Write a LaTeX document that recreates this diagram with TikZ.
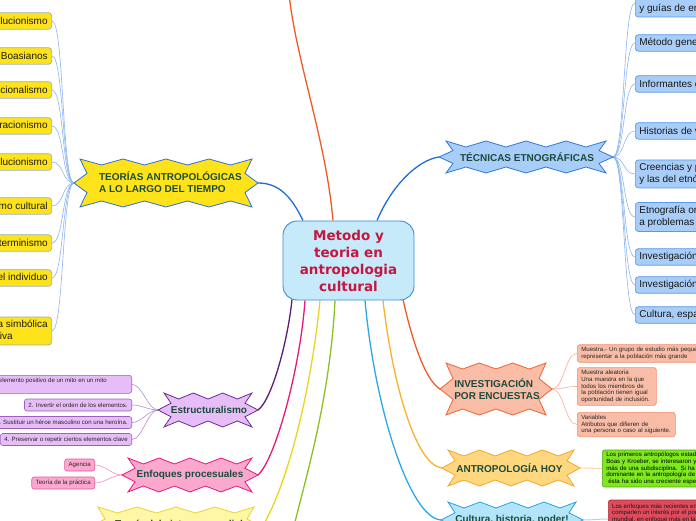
\documentclass[tikz,border=0pt]{standalone}
\usepackage{fontspec}
\setmainfont{Liberation Sans}
\newfontfamily\dejavu{DejaVu Sans}
\usetikzlibrary{calc,backgrounds}
\definecolor{cfill}{HTML}{C6EAFA}\definecolor{cbord}{HTML}{3A8DD8}\definecolor{ctext}{HTML}{C41740}
\definecolor{btxt}{HTML}{1B4B3C}
\definecolor{ylw}{HTML}{FFE31A}\definecolor{ylwb}{HTML}{9EAFC0}\definecolor{teob}{HTML}{2F6FD6}\definecolor{lconn}{HTML}{8DB6EE}
\definecolor{pfill}{HTML}{E6BDF6}\definecolor{pbord}{HTML}{9F5FBE}\definecolor{pburst}{HTML}{6E2C92}\definecolor{pconn}{HTML}{B98BCB}\definecolor{pmain}{HTML}{5A1E78}
\definecolor{kfill}{HTML}{FBA8CF}\definecolor{kbord}{HTML}{E8559B}\definecolor{kburst}{HTML}{E6197E}\definecolor{kconn}{HTML}{F48DBF}\definecolor{kmain}{HTML}{E8197A}
\definecolor{lyfill}{HTML}{FFF6A6}\definecolor{lybord}{HTML}{E8D52C}\definecolor{lymain}{HTML}{E9D51E}
\definecolor{gmain}{HTML}{8CC21E}
\definecolor{tfill}{HTML}{A8CDF8}\definecolor{tbord}{HTML}{5B9AE8}\definecolor{tburst}{HTML}{2D79DA}\definecolor{bmain}{HTML}{1F6FD2}
\definecolor{efill}{HTML}{F9BCA6}\definecolor{ebord}{HTML}{F2906F}\definecolor{eburst}{HTML}{F1632F}\definecolor{econn}{HTML}{F7AE95}\definecolor{emain}{HTML}{F05A28}
\definecolor{afill}{HTML}{FFD77F}\definecolor{abord}{HTML}{F4A72A}\definecolor{amain}{HTML}{F7B32B}\definecolor{aconn}{HTML}{FCD9A0}
\definecolor{gfill}{HTML}{7EEA1E}\definecolor{gbord}{HTML}{4E9F14}
\definecolor{ufill}{HTML}{B3E5FA}\definecolor{ubord}{HTML}{2C9FE3}\definecolor{umain}{HTML}{2BA8EA}\definecolor{uconn}{HTML}{A3D9F5}
\definecolor{rfill}{HTML}{E04B5C}\definecolor{rbord}{HTML}{B22A3A}
% name, cx, cy, half width, half height, segments (even), tip, style
\newcommand\burst[8]{%
  \draw[#8] ({#2-#4},{#3+#5})
    \foreach \i in {1,...,#6} { -- ({#2-#4+\i*2*#4/#6},{#3+#5-6*mod(\i,2)}) }
    -- ({#2+#4-7},{#3+0.4*#5}) -- ({#2+#4+#7},{#3}) -- ({#2+#4-7},{#3-0.4*#5}) -- ({#2+#4},{#3-#5})
    \foreach \i in {1,...,#6} { -- ({#2+#4-\i*2*#4/#6},{#3-#5+6*mod(\i,2)}) }
    -- ({#2-#4+7},{#3-0.4*#5}) -- ({#2-#4-#7},{#3}) -- ({#2-#4+7},{#3+0.4*#5}) -- cycle;
  \coordinate (#1-w) at ({#2-#4-#7},{#3});
  \coordinate (#1-e) at ({#2+#4+#7},{#3});
}
\begin{document}
\begin{tikzpicture}[x=1pt,y=1pt,
  mainnode/.style={draw=cbord, fill=cfill, line width=0.9pt, rounded corners=14pt, minimum width=131pt, minimum height=79pt, inner sep=0pt, align=center, text=ctext, font=\dejavu\bfseries\fontsize{13.5}{17}\selectfont},
  btext/.style={font=\bfseries\fontsize{10}{12}\selectfont, text=btxt, align=left, inner sep=0pt},
  bline/.style={line width=0.8pt, line join=miter},
  box/.style={rounded corners=3pt, line width=0.7pt, inner xsep=4pt, inner ysep=0pt, minimum height=16.5pt, font=\fontsize{10}{11.6}\selectfont, align=left, text=black!90},
  lbox/.style={box, draw=ylwb, fill=ylw, anchor=east},
  rbox/.style={box, draw=tbord, fill=tfill, anchor=west},
  tinybox/.style={rounded corners=2.5pt, line width=0.6pt, inner xsep=4pt, inner ysep=2.5pt, minimum height=12pt, font=\fontsize{6.1}{6.8}\selectfont, align=left, text=black!85},
  mainline/.style={line width=1.3pt},
  subline/.style={line width=0.6pt},
]
\useasboundingbox (0,0) rectangle (696,520);
\node[mainnode] (c) at (348.5,259.5) {Metodo y\\teoria en\\antropologia\\cultural};

% bursts
\burst{teo}{166}{337}{86}{24}{8}{6}{bline, draw=teob, fill=ylw}
\node[btext] (teot) at (170.5,338) {TEORÍAS ANTROPOLÓGICAS\\A LO LARGO DEL TIEMPO};
\burst{tec}{526}{363}{80}{16}{8}{7}{bline, draw=tburst, fill=tfill}
\node[btext] (tect) at (527,363) {TÉCNICAS ETNOGRÁFICAS};
\burst{enc}{496}{131}{50}{26}{6}{6}{bline, draw=eburst, fill=efill}
\node[btext] (enct) at (497,131) {INVESTIGACIÓN\\POR ENCUESTAS};
\burst{ah}{511}{52}{63}{18}{8}{6}{bline, draw=abord, fill=afill}
\node[btext] (aht) at (509.5,52) {ANTROPOLOGÍA HOY};
\burst{cul}{512}{0}{64}{18}{8}{7}{bline, draw=ubord, fill=ufill}
\node[btext, anchor=base] (cult) at (512,-2) {Cultura, historia, poder!};
\burst{est}{208}{110}{44}{17}{6}{6}{bline, draw=pburst, fill=pfill}
\node[btext] (estt) at (209,110) {Estructuralismo};
\burst{enf}{190}{45}{62}{17}{8}{6}{bline, draw=kburst, fill=kfill}
\node[btext] (enft) at (190,45) {Enfoques procesuales};
\burst{tsm}{176}{-7}{78}{20}{8}{8}{bline, draw=lybord, fill=lyfill}
\node[btext, anchor=base] (tsmt) at (179,-7) {Teoría del sistema mundial};

% left yellow boxes
\node[lbox] (l1) at (52,499) {Evolucionismo};
\node[lbox] (l2) at (52,464) {Los Boasianos};
\node[lbox] (l3) at (52,430) {Funcionalismo};
\node[lbox] (l4) at (52,394) {Configuracionismo};
\node[lbox] (l5) at (52,358) {Neoevolucionismo};
\node[lbox] (l6) at (52,314) {Materialismo cultural};
\node[lbox] (l7) at (52,277) {Determinismo};
\node[lbox] (l8) at (52,242) {Cultura y el individuo};
\node[lbox, minimum height=28pt] (l9) at (52,189) {Antropología simbólica\\e interpretativa};

% right blue boxes
\node[rbox, minimum height=28pt] (r1) at (635,517) {Conversación, entrevista\\y guías de entrevista};
\node[rbox] (r2) at (635,477) {Método genealógico};
\node[rbox] (r3) at (635,436) {Informantes clave};
\node[rbox] (r4) at (635,389) {Historias de vida};
\node[rbox, minimum height=28pt] (r5) at (635,346) {Creencias y percepciones locales,\\y las del etnógrafo};
\node[rbox, minimum height=29pt] (r6) at (635,303) {Etnografía orientada\\a problemas};
\node[rbox] (r7) at (635,263) {Investigación longitudinal};
\node[rbox] (r8) at (635,235) {Investigación en equipo};
\node[rbox] (r9) at (635,205) {Cultura, espacio y escala};

% purple boxes
\node[tinybox, draw=pbord, fill=pfill, minimum width=170pt, minimum height=18pt, anchor=north east] (p1) at (132,145) {};
\node[font=\fontsize{6.1}{6.8}\selectfont, text=black!85, inner sep=0pt, anchor=base east] (p1t) at (107,137.5) {1. Convertir un elemento positivo de un mito en un mito};
\node[tinybox, draw=pbord, fill=pfill, anchor=east] (p2) at (132,115) {2. Invertir el orden de los elementos.};
\node[tinybox, draw=pbord, fill=pfill, anchor=east] (p3) at (132,97.5) {3. Sustituir un héroe masculino con una heroína.};
\node[tinybox, draw=pbord, fill=pfill, anchor=east] (p4) at (132,80.5) {4. Preservar o repetir ciertos elementos clave};

% pink boxes
\node[tinybox, draw=kbord, fill=kfill, anchor=east] (k1) at (95,55) {Agencia};
\node[tinybox, draw=kbord, fill=kfill, anchor=east] (k2) at (95,37) {Teoría de la práctica};

% encuestas boxes
\node[tinybox, draw=ebord, fill=efill, anchor=west, text width=140pt] (e1) at (577,166.5) {Muestra.- Un grupo de estudio más pequeño\\representar a la población más grande};
\node[tinybox, draw=ebord, fill=efill, anchor=west, text width=71pt] (e2) at (577,133.5) {Muestra aleatoria\\Una muestra en la que\\todos los miembros de\\la población tienen igual\\oportunidad de inclusión.};
\node[tinybox, draw=ebord, fill=efill, anchor=west, text width=90pt] (e3) at (577,95.5) {Variables\\Atributos que difieren de\\una persona o caso al siguiente.};

% green box
\node[tinybox, draw=gbord, fill=gfill, anchor=west, text width=170pt, inner ysep=2pt, text=black] (g1) at (602,51.5) {Los primeros antropólogos estadounidenses, como\\Boas y Kroeber, se interesaron y contribuyeron a\\más de una subdisciplina. Si ha habido una tendencia\\dominante en la antropología de los últimos años,\\\ ésta ha sido una creciente especialización.};

% red box
\node[tinybox, draw=rbord, fill=rfill, anchor=west, minimum width=140pt, minimum height=38pt] (red) at (608,1) {};
\node[font=\fontsize{6.1}{6.8}\selectfont, text=black!90, align=left, inner sep=0pt, anchor=north west] (redt) at (612,16.5) {Los enfoques más recientes en\\comparten un interés por el poder\\mundial, en enfoque más en la};

\coordinate (topend) at (289,526);
\coordinate (gend) at (292,-14);

\begin{scope}[on background layer]
\fill[white] (0,0) rectangle (696,520);
% main connectors
\draw[mainline, emain] ($(c.north)+(-15.5,0)$) .. controls (326,380) and (296,460) .. (topend);
\draw[mainline, bmain] ($(c.north)+(-45.5,0)$) .. controls (292,322) and (280,337) .. (teo-e);
\draw[mainline, bmain] ($(c.north)+(28.5,0)$) .. controls (392,335) and (418,360) .. (tec-w);
\draw[mainline, pmain] ($(c.south)+(-56.5,1)$) .. controls (288,180) and (272,120) .. (est-e);
\draw[mainline, kmain] ($(c.south)+(-43.5,0)$) .. controls (300,150) and (275,60) .. (enf-e);
\draw[mainline, lymain] ($(c.south)+(-28.5,0)$) .. controls (310,120) and (285,30) .. (tsm-e);
\draw[mainline, gmain] ($(c.south)+(-13.5,0)$) .. controls (330,120) and (305,40) .. (gend);
\draw[mainline, umain] ($(c.south)+(16.5,0)$) .. controls (375,110) and (410,2) .. (cul-w);
\draw[mainline, amain] ($(c.south)+(34.5,0)$) .. controls (392,140) and (415,55) .. (ah-w);
\draw[mainline, emain] ($(c.south)+(54.5,1)$) .. controls (412,180) and (425,140) .. (enc-w);
% sub connectors
\foreach \n in {l1,l2,l3,l4,l5,l6,l7,l8,l9}
  \draw[subline, lconn] (\n.east) to[out=0,in=180,distance=12pt] (teo-w);
\foreach \n in {r1,r2,r3,r4,r5,r6,r7,r8,r9}
  \draw[subline, lconn] (tec-e) to[out=0,in=180,distance=12pt] (\n.west);
\foreach \n in {p1,p2,p3,p4}
  \draw[subline, pconn] (\n.east) to[out=0,in=180,distance=10pt] (est-w);
\foreach \n in {k1,k2}
  \draw[subline, kconn] (\n.east) to[out=0,in=180,distance=10pt] (enf-w);
\foreach \n in {e1,e2,e3}
  \draw[subline, econn] (enc-e) to[out=0,in=180,distance=12pt] (\n.west);
\draw[subline, aconn, line width=1pt] (ah-e) to[out=0,in=180] (g1.west);
\draw[subline, uconn, line width=1pt] (cul-e) to[out=0,in=180] (red.west);
\end{scope}
\end{tikzpicture}
\end{document}
